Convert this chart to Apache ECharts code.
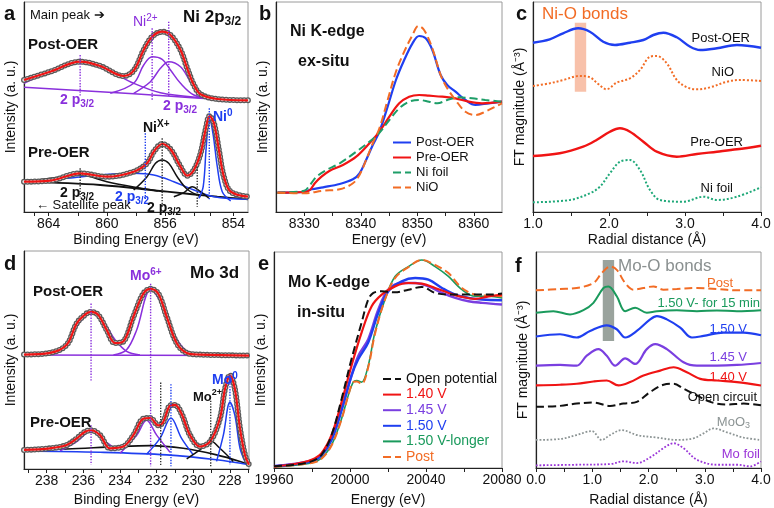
<!DOCTYPE html>
<html><head><meta charset="utf-8">
<script src="https://cdn.jsdelivr.net/npm/echarts@6/dist/echarts.min.js"></script>
<style>html,body{margin:0;padding:0;background:#fff}#c{width:774px;height:508px}</style>
</head><body><div id="c"></div>
<script>
// ---------- Panel a: Ni 2p3/2 XPS ----------
const aTickLabels = ['864','860','856','854'];
const aTickLabelPos = [864, 860, 856, 851.3];
const aTickPos = [865, 864, 862, 860, 858, 856, 854, 852.9, 851.3];
const aPostFit = [[865.7,132],[863.91,140.3],[861.84,150.3],[860.46,146],[858.85,136],[858.16,141.3],[857.47,162],[856.89,175.3],[856.2,180.3],[855.63,177],[854.94,162],[854.48,143.7],[854.02,127],[853.56,117.7],[852.41,113],[850.3,111.7]];
const aPostBg = [[865.7,124.7],[860.46,120.3],[855.86,116],[852.41,112.7],[850.3,111]];
const aPostSat = [[865.7,128.7],[863.91,140.3],[861.84,148.7],[860.0,142],[858.16,128.7],[856.32,119.3],[853.56,114.3],[850.3,111]];
const aPostNi2a = [[859.77,118.7],[858.16,128.7],[857.47,147],[856.89,155.3],[856.2,152.7],[855.63,142],[854.94,128.7],[854.02,117],[852.64,112.7]];
const aPostNi2b = [[858.16,118.7],[857.01,130.3],[856.32,143.7],[855.75,150.3],[854.94,145.3],[854.25,130.3],[853.56,117],[852.64,112]];
const aPreFit = [[865.7,30.3],[863.91,31.3],[861.84,38.7],[860.0,35.3],[858.16,40.3],[857.24,48.7],[856.78,60.3],[856.2,68],[855.63,62.7],[854.94,45.3],[854.48,36.3],[854.02,42],[853.56,58.7],[853.22,82],[852.94,96],[852.64,88.7],[852.3,62],[851.96,35.3],[851.49,20.3],[850.3,15.3]];
const aPreBg = [[865.7,30.3],[860.46,27],[855.86,20.3],[852.41,15.3],[850.3,12.7]];
const aPreSat = [[865.7,29.7],[863.91,33.7],[861.84,37],[860.0,30.3],[858.16,25],[856.5,21]];
const aPreBroad = [[865.7,29.3],[862.76,33.7],[860.46,37],[858.16,38.7],[856.78,37],[855.4,30.3],[854.02,22],[852.64,15.3],[850.3,12.7]];
const aPreNix = [[858.16,22],[857.24,35.3],[856.66,48.7],[856.2,52],[855.75,48.7],[855.17,35.3],[854.48,22.7],[853.56,15.3]];
const aPreSmall = [[855.4,15.3],[854.71,19.3],[854.14,25.3],[853.56,20.3],[852.99,13.7]];
const aPreNi0 = [[853.68,13.7],[853.38,25.3],[853.17,65.3],[852.96,93.7],[852.71,78.7],[852.41,45.3],[852.07,20.3],[851.49,11]];
const aGuidePurple = [[861.84,157,115.3],[856.89,183.7,112],[855.75,190.3,115.3]];
const aGuideBlue = [[852.96,103.7,12],[857.36,78.7,12]];
const aGuideBlack = [[861.84,43.7,15.3],[856.2,73.7,5.3],[853.79,45.3,5.3]];

// ---------- Panel b: Ni K-edge ----------
const bTickLabels = [8330, 8340, 8350, 8360];
const bTicks = [8330, 8335, 8340, 8345, 8350, 8355, 8360];
const bPost = [[8325.25,19.3],[8330,20],[8331.29,22.7],[8333.34,24.7],[8336.27,28],[8338.61,32.7],[8339.78,38.7],[8340.95,52],[8342.13,67],[8343.3,80.3],[8344.76,105.3],[8346.23,132],[8347.69,152],[8349.16,168.7],[8350.33,176],[8351.5,173.7],[8352.67,162],[8354.14,137],[8355.31,127],[8356.77,120.3],[8358.53,112],[8360.29,107],[8362.63,108.7],[8365,110.3]];
const bPre = [[8325.25,19.3],[8330,20],[8331,22],[8331.87,28.7],[8333.05,35.3],[8334.51,41.3],[8336.85,47],[8339.2,55.3],[8341.54,68.7],[8343.3,80.3],[8345.06,95.3],[8346.81,108.7],[8348.57,115.3],[8350.33,117],[8352.09,116.3],[8354.43,115.3],[8356.77,113.7],[8359.12,110.3],[8361.46,108.7],[8365,110.3]];
const bFoil = [[8325.25,19.3],[8330,21.3],[8331,27],[8332.17,35.3],[8333.93,42],[8336.27,48.7],[8339.2,60.3],[8341.54,70.3],[8343.3,79.3],[8345.06,92],[8346.81,103.7],[8348.57,110.3],[8350.33,112],[8352.09,110.3],[8353.55,108.7],[8355.31,112],[8357.36,114.7],[8359.7,113.7],[8362.04,112],[8365,110.3]];
const bNiO = [[8325.25,19.3],[8330,18.7],[8333.34,21.3],[8336.27,22.7],[8338.61,28.7],[8339.78,37],[8340.95,52],[8342.13,68.7],[8343.3,83.7],[8344.76,112],[8346.23,140.3],[8347.69,160.3],[8349.16,177],[8350.21,186],[8351.21,182],[8352.67,163.7],[8354.14,137],[8355.31,123.7],[8356.77,112],[8358.53,100.3],[8360.29,97],[8362.04,100.3],[8363.8,105.3],[8365,108.7]];

// ---------- Panel c: Ni FT-EXAFS ----------
const cTickLabels = [1, 2, 3, 4];
const cTicks = [1, 1.5, 2, 2.5, 3, 3.5, 4];
const cPost = [[1.0,169.3],[1.22,172.7],[1.396,178.7],[1.594,183.7],[1.748,180.3],[1.924,170.3],[2.078,167],[2.276,169.3],[2.452,172],[2.584,177],[2.716,179.3],[2.892,174.7],[3.068,165.3],[3.2,162],[3.42,163.7],[3.684,167],[4.0,164.3]];
const cNiO = [[1.0,126],[1.22,128.7],[1.396,132],[1.616,136],[1.748,134.7],[1.858,128],[1.968,122.7],[2.1,129.3],[2.276,133.7],[2.408,142],[2.54,155.3],[2.628,156],[2.76,148.7],[2.892,132],[3.024,124.7],[3.156,122.7],[3.332,124.7],[3.552,130.3],[3.728,132],[4.0,131]];
const cPre = [[1.0,56],[1.352,58.7],[1.66,65.3],[1.836,72],[2.012,80.3],[2.144,83.7],[2.276,80.3],[2.452,70.3],[2.628,60.3],[2.892,55.3],[3.156,58],[3.42,60.3],[3.684,62.7],[4.0,66.3]];
const cFoil = [[1.0,9.7],[1.484,12],[1.748,18.7],[1.88,25.3],[2.012,38.7],[2.144,50.3],[2.276,52],[2.408,42],[2.54,22],[2.672,12],[2.98,10.3],[3.244,15.3],[3.42,12],[3.684,15.3],[4.0,24.7]];
const cBondBand = [[1.55,120.3],[1.70,189.3]];

// ---------- Panel d: Mo 3d XPS ----------
const dTickLabels = [238, 236, 234, 232, 230, 228];
const dTicks = [239, 238, 237, 236, 235, 234, 233, 232, 231, 230, 229, 228, 227];
const dPostFit = [[239.24,116],[237.82,117.7],[236.91,126],[236.36,147.7],[235.82,157.7],[235.55,159.3],[235.18,156],[234.73,141],[234.27,127.7],[233.82,129.3],[233.27,154.3],[232.73,177.7],[232.33,182.7],[231.91,177.7],[231.45,154.3],[230.91,127.7],[230.36,117.7],[229.64,116],[226.96,115]];
const dPostBg = [[239.24,115.5],[226.96,115]];
const dPostP1 = [[237.82,116.3],[236.91,126],[236.18,149.3],[235.55,157.7],[234.91,149.3],[234.27,131],[233.64,119.3],[232.91,115.7]];
const dPostP2 = [[234.36,115.7],[233.64,121],[233.09,141],[232.33,181.7],[231.64,164.3],[231.09,137.7],[230.36,119.3],[229.64,115.7]];
const dPreFit = [[239.24,19.3],[237.82,21],[236.91,24.3],[236.36,31],[235.91,37.7],[235.58,39.3],[235.09,34.3],[234.55,21],[233.82,22.7],[233.27,34.3],[232.73,51],[232.36,51.7],[231.91,44.3],[231.64,47.7],[231.27,64.3],[231.0,65],[230.64,56],[230.18,34.3],[229.64,22.7],[229.09,27.7],[228.55,51],[228.27,81],[228.0,95],[227.73,81],[227.45,41],[227.18,14.3],[226.96,4.3]];
const dPreBg = [[239.24,19.3],[236.91,20.3],[234.18,22.7],[232.36,23.7],[230.55,21],[228.73,14.3],[227.45,7.7],[226.96,4.3]];
const dPreBase = [[239.24,18.3],[235.09,17],[231.45,14.3],[228.73,9.3],[226.96,4.3]];
const dPreP1 = [[237.27,18.3],[236.36,27.7],[235.58,38.3],[234.91,29.3],[234.18,19.3]];
const dPreP2 = [[234.0,16],[233.09,34.3],[232.55,49.3],[232.0,34.3],[231.27,17]];
const dPreB1 = [[232.55,15],[231.82,31],[231.22,51.7],[230.64,31],[230.0,14.3]];
const dPreMo2 = [[230.36,10.3],[229.64,19.3],[229.05,28.3],[228.55,21],[227.82,7.7]];
const dPreMo0 = [[228.73,7.7],[228.36,34.3],[228.0,67.7],[227.73,54.3],[227.45,21],[227.18,7.7]];
const dGuidePurple = [[235.58,167.7,89.3],[232.33,187.7,2.7],[235.58,44.3,4.3]];
const dGuideBlack = [[231.78,87.7,2.7],[229.05,69.3,2.7]];
const dGuideBlue = [[231.22,86,2.7],[228.0,95.3,4.3]];

// ---------- Panel e: Mo K-edge ----------
const eTickLabels = [19960, 20000, 20040, 20080];
const eTicks = [19960, 19980, 20000, 20020, 20040, 20060, 20080];
const eOpen = [[19960,1.7],[19970.9,3.3],[19979.7,6.7],[19985,13.3],[19990.3,33.3],[19995.6,70],[20000.8,110],[20006.1,146.7],[20009.6,170],[20012.3,176.7],[20016.7,178.3],[20023.7,177.3],[20030.8,180],[20037.8,182.7],[20044.8,176.7],[20051.9,175],[20058.9,175],[20066,175],[20073,175],[20080,176]];
const e140 = [[19960,1.7],[19970.9,4],[19979.7,8.3],[19985,15],[19990.3,33.3],[19995.6,66.7],[20000.8,103.3],[20006.1,136.7],[20011.4,163.3],[20016.7,175],[20023.7,183.3],[20030.8,186.7],[20037.8,186],[20044.8,181.7],[20051.9,176.7],[20058.9,172.7],[20066,170.7],[20073,173.3],[20080,175]];
const e145 = [[19960,1.7],[19979.7,7.3],[19985,13.3],[19990.3,30],[19995.6,60],[20000.8,93.3],[20004.4,113.3],[20009.6,130],[20014.9,160],[20020.2,180],[20027.2,186.7],[20034.3,186.7],[20041.3,183.3],[20048.4,176.7],[20055.4,171.7],[20062.4,168.3],[20069.5,166.7],[20080,165]];
const e150 = [[19960,1.7],[19979.7,6.7],[19985,12.7],[19990.3,28.3],[19995.6,58.3],[20000.8,93.3],[20004.4,110],[20009.6,126.7],[20014.9,156.7],[20020.2,178.3],[20027.2,188.3],[20034.3,191.7],[20041.3,190],[20048.4,181.7],[20055.4,175],[20062.4,171.7],[20069.5,170],[20080,169.3]];
const e150L = [[19960,0.7],[19979.7,5],[19985,10],[19990.3,23.3],[19995.6,50],[19999.1,73.3],[20001.7,86.7],[20003.5,88.3],[20006.1,86.7],[20009.6,103.3],[20013.1,136.7],[20018.4,170],[20023.7,193.3],[20030.7,203.3],[20037.8,210],[20044.8,203.3],[20051.8,193.3],[20058.9,180],[20065.9,173.3],[20073,173.3],[20080,171.7]];
const ePost = [[19960,1.3],[19979.7,5],[19985,9.3],[19990.3,22.7],[19995.6,49.3],[19999.1,73.3],[20001.7,86.7],[20003.5,87.3],[20006.1,85],[20009.6,101.7],[20013.1,135],[20018.4,170],[20023.7,191.7],[20030.7,202.7],[20037.8,210],[20044.8,205],[20051.8,196.7],[20058.9,181.7],[20065.9,175],[20073,174],[20080,173.3]];

// ---------- Panel f: Mo FT-EXAFS ----------
const fTickLabels = [0, 1, 2, 3, 4];
const fTicks = [0, 0.5, 1, 1.5, 2, 2.5, 3, 3.5, 4];
const fPost = [[0,179.3],[0.427,180.7],[0.724,181.7],[1.021,186.7],[1.169,196.7],[1.318,203.3],[1.436,200],[1.585,186.7],[1.733,180],[1.911,181.7],[2.089,183.3],[2.267,180],[2.504,180.7],[2.861,181.7],[3.217,180.7],[3.573,179.3],[4,179.3]];
const f150L = [[0,156.7],[0.309,158.3],[0.605,155],[0.843,159.3],[1.021,166.7],[1.199,181.7],[1.288,183.3],[1.436,173.3],[1.585,158.3],[1.763,161.7],[1.97,156.7],[2.148,158.3],[2.504,159.3],[2.861,158.3],[3.217,159],[3.573,158.3],[4,159.3]];
const f150 = [[0,132.7],[0.427,135],[0.724,131.7],[0.961,138.3],[1.258,144],[1.436,140],[1.585,131.7],[1.792,138.3],[2.03,150],[2.148,153.3],[2.326,150],[2.564,141.7],[2.772,131.7],[2.979,133.3],[3.335,136.7],[3.691,136.7],[4,134]];
const f145 = [[0,103.3],[0.427,104],[0.724,103.3],[0.902,113.3],[1.11,120],[1.258,113.3],[1.407,103.3],[1.585,110.7],[1.763,105],[1.97,120],[2.119,125],[2.326,120],[2.623,106.7],[2.861,103.3],[3.217,103.3],[3.573,104],[4,106]];
const f140 = [[0,83.3],[0.427,84],[0.724,85],[1.021,87.3],[1.258,88.3],[1.466,83.3],[1.674,86.7],[1.911,93.3],[2.208,98.3],[2.445,101.7],[2.682,96.7],[2.92,90],[3.217,88.3],[3.573,86.7],[4,83.3]];
const fOpen = [[0,61.7],[0.427,62.7],[0.724,65],[1.021,66],[1.318,62.7],[1.555,65],[1.792,66.7],[2.03,76.7],[2.267,84],[2.445,85],[2.623,80],[2.861,73.3],[3.098,66.7],[3.395,64],[3.691,65],[4,63.3]];
const fMoO3 = [[0,28.3],[0.427,29.3],[0.724,33.3],[0.991,37.3],[1.169,28.3],[1.318,33.3],[1.525,38.3],[1.792,33.3],[2.148,30.7],[2.504,28.3],[2.801,30],[2.979,35],[3.157,40],[3.395,36],[3.691,30.7],[4,28.3]];
const fFoil = [[0,2.7],[0.724,3.3],[1.318,4],[1.555,6.7],[1.792,5],[2.03,10.7],[2.267,20],[2.445,25],[2.623,20],[2.861,8.3],[3.217,3.3],[3.573,3.3],[3.81,1.7],[4,6.7]];
const fBondBand = [[1.187,128.3],[1.389,210]];

// ---------- styling ----------
const FONT = 'Liberation Sans, Arial, sans-serif';
const RED = '#f01414', BLUE = '#1f3ff0', PURPLE = '#8a30dc', GREEN = '#17a062', ORANGE = '#f26c25', BLACK = '#111111', GRAY = '#8c9494';

const chart = echarts.init(document.getElementById('c'), null, {renderer: 'canvas'});

const grids = [
  {left: 24, top: 2, width: 224, height: 210},
  {left: 276, top: 2, width: 226, height: 210},
  {left: 533, top: 2, width: 228, height: 210},
  {left: 24, top: 251, width: 225, height: 221},
  {left: 274, top: 252, width: 228, height: 218},
  {left: 536, top: 252, width: 225, height: 218}
].map(g => Object.assign({show: true, borderColor: '#9a9a9a', borderWidth: 1, backgroundColor: 'transparent'}, g));

function xAx(gi, min, max, inverse, labels, ticks, fmt, name, gap) {
  return {type: 'value', gridIndex: gi, min, max, inverse, name, nameLocation: 'middle', nameGap: gap,
    nameTextStyle: {fontSize: 14, color: BLACK, fontFamily: FONT},
    axisLine: {show: true, onZero: false, lineStyle: {color: '#222', width: 1.2}},
    axisTick: {show: true, customValues: ticks, length: 4, lineStyle: {color: '#222'}},
    axisLabel: {customValues: labels, formatter: fmt, fontSize: 14, color: BLACK, fontFamily: FONT, margin: 5},
    splitLine: {show: false}};
}
function yAx(gi, max, name) {
  return {type: 'value', gridIndex: gi, min: 0, max, name, nameLocation: 'middle', nameGap: 6,
    nameTextStyle: {fontSize: 14, color: BLACK, fontFamily: FONT},
    axisLine: {show: true, lineStyle: {color: '#222', width: 1.2}},
    axisTick: {show: false}, axisLabel: {show: false}, splitLine: {show: false}};
}
const xAxis = [
  xAx(0, 850.3, 865.7, true, aTickLabelPos, aTickPos, v => aTickLabels[aTickLabelPos.indexOf(v)] || '', 'Binding Energy (eV)', 21),
  xAx(1, 8325, 8365, false, bTickLabels, bTicks, v => String(v), 'Energy (eV)', 21),
  xAx(2, 1, 4, false, cTickLabels, cTicks, v => v.toFixed(1), 'Radial distance (Å)', 21),
  xAx(3, 226.96, 239.24, true, dTickLabels, dTicks, v => String(v), 'Binding Energy (eV)', 24),
  xAx(4, 19960, 20080, false, eTickLabels, eTicks, v => String(v), 'Energy (eV)', 25),
  xAx(5, 0, 4, false, fTickLabels, fTicks, v => v.toFixed(1), 'Radial distance (Å)', 25)
];
const yAxis = [
  yAx(0, 210, 'Intensity (a. u.)'), yAx(1, 210, 'Intensity (a. u.)'), yAx(2, 210, 'FT magnitude (Å⁻³)'),
  yAx(3, 221, 'Intensity (a. u.)'), yAx(4, 218, 'Intensity (a. u.)'), yAx(5, 218, 'FT magnitude (Å⁻³)')
];

const series = [];
function ln(gi, name, data, color, width, type, z, extra) {
  const s = {type: 'line', name, xAxisIndex: gi, yAxisIndex: gi, data, smooth: 0.35, symbol: 'none', showSymbol: false,
    lineStyle: {color, width, type: type || 'solid'}, itemStyle: {color}, z: z || 2, silent: true, animation: false};
  if (extra) Object.assign(s, extra);
  series.push(s);
  return s;
}
function fitEnvelope(gi, key, data) {
  ln(gi, key + '-o', data, '#5a5a5a', 6, [0, 3.6], 3, {lineStyle: {color: '#5a5a5a', width: 6, type: [0, 3.6], cap: 'round'}});
  ln(gi, key + '-i', data, '#e2e2e2', 3.4, [0, 3.6], 4, {lineStyle: {color: '#e2e2e2', width: 3.4, type: [0, 3.6], cap: 'round'}});
  ln(gi, key + '-r', data, RED, 2.2, 'solid', 5);
}
function guides(gi, key, list, color) {
  list.forEach((g, i) => ln(gi, key + i, [[g[0], g[1]], [g[0], g[2]]], color, 1.4, 'dotted', 6, {smooth: false}));
}

// Panel a
ln(0, 'a-post-bg', aPostBg, PURPLE, 1.5);
ln(0, 'a-post-sat', aPostSat, PURPLE, 1.5);
ln(0, 'a-post-n1', aPostNi2a, PURPLE, 1.5);
ln(0, 'a-post-n2', aPostNi2b, PURPLE, 1.5);
fitEnvelope(0, 'a-post', aPostFit);
ln(0, 'a-pre-bg', aPreBg, BLACK, 1.8);
ln(0, 'a-pre-sat', aPreSat, BLACK, 1.5);
ln(0, 'a-pre-broad', aPreBroad, BLUE, 1.5);
ln(0, 'a-pre-nix', aPreNix, BLACK, 1.5);
ln(0, 'a-pre-small', aPreSmall, BLACK, 1.5);
ln(0, 'a-pre-ni0', aPreNi0, BLUE, 1.5);
fitEnvelope(0, 'a-pre', aPreFit);
guides(0, 'a-gp', aGuidePurple, PURPLE);
guides(0, 'a-gb', aGuideBlue, BLUE);
guides(0, 'a-gk', aGuideBlack, '#333');

// Panel b
ln(1, 'Post-OER', bPost, BLUE, 2.2, 'solid', 3);
ln(1, 'Pre-OER', bPre, RED, 2.2, 'solid', 3);
ln(1, 'Ni foil', bFoil, '#1e9e68', 2, 'dashed', 3);
ln(1, 'NiO', bNiO, ORANGE, 2, 'dashed', 4);

// Panel c
ln(2, 'c-post', cPost, BLUE, 2.4, 'solid', 3, {markArea: {silent: true, itemStyle: {color: 'rgba(244,160,125,0.65)'}, data: [[{coord: cBondBand[0]}, {coord: cBondBand[1]}]]}});
ln(2, 'c-nio', cNiO, ORANGE, 2, 'dotted', 3);
ln(2, 'c-pre', cPre, RED, 2.4, 'solid', 3);
ln(2, 'c-foil', cFoil, '#1ea878', 2, 'dotted', 3);

// Panel d
ln(3, 'd-post-bg', dPostBg, PURPLE, 1.5, 'solid', 2, {smooth: false});
ln(3, 'd-post-p1', dPostP1, PURPLE, 1.5);
ln(3, 'd-post-p2', dPostP2, PURPLE, 1.5);
fitEnvelope(3, 'd-post', dPostFit);
ln(3, 'd-pre-bg', dPreBg, BLACK, 1.6);
ln(3, 'd-pre-base', dPreBase, BLUE, 1.6);
ln(3, 'd-pre-p1', dPreP1, PURPLE, 1.5);
ln(3, 'd-pre-p2', dPreP2, PURPLE, 1.5);
ln(3, 'd-pre-b1', dPreB1, BLUE, 1.5);
ln(3, 'd-pre-mo2', dPreMo2, BLACK, 1.5);
ln(3, 'd-pre-mo0', dPreMo0, BLUE, 1.5);
fitEnvelope(3, 'd-pre', dPreFit);
guides(3, 'd-gp', dGuidePurple, PURPLE);
guides(3, 'd-gk', dGuideBlack, '#333');
guides(3, 'd-gb', dGuideBlue, BLUE);

// Panel e
ln(4, '1.50 V-longer', e150L, '#1a9a5c', 1.6, 'solid', 3);
ln(4, 'Post', ePost, ORANGE, 2, 'dashed', 4);
ln(4, '1.45 V', e145, '#7a3fe0', 2.4, 'solid', 3);
ln(4, '1.50 V', e150, BLUE, 2.4, 'solid', 3);
ln(4, '1.40 V', e140, RED, 2.2, 'solid', 4);
ln(4, 'Open potential', eOpen, BLACK, 2, 'dashed', 5);

// Panel f
ln(5, 'f-post', fPost, ORANGE, 2, 'dashed', 4, {markArea: {silent: true, itemStyle: {color: 'rgba(120,132,124,0.75)'}, data: [[{coord: fBondBand[0]}, {coord: fBondBand[1]}]]}});
ln(5, 'f-150l', f150L, '#1a9a5c', 2, 'solid', 3);
ln(5, 'f-150', f150, BLUE, 2.2, 'solid', 3);
ln(5, 'f-145', f145, '#7a3fe0', 2.2, 'solid', 3);
ln(5, 'f-140', f140, RED, 2.2, 'solid', 3);
ln(5, 'f-open', fOpen, BLACK, 2, 'dashed', 3);
ln(5, 'f-moo3', fMoO3, GRAY, 1.8, 'dotted', 3);
ln(5, 'f-foil', fFoil, '#9a35d8', 1.8, 'dotted', 3);

// ---------- annotations ----------
const richBase = (size, color, weight) => ({
  n: {fontSize: size, color, fontWeight: weight, fontFamily: FONT, lineHeight: size + 4, verticalAlign: 'middle'},
  s: {fontSize: Math.round(size * 0.68), color, fontWeight: weight, fontFamily: FONT, lineHeight: Math.round(size * 0.68), verticalAlign: 'bottom'},
  u: {fontSize: Math.round(size * 0.68), color, fontWeight: weight, fontFamily: FONT, lineHeight: Math.round(size * 0.68), verticalAlign: 'top'}
});
const graphic = [];
function T(x, y, text, size, color, weight, align) {
  graphic.push({type: 'text', x, y, z: 100, silent: true,
    style: {text, x: 0, y: 0, align: align || 'left', verticalAlign: 'middle', rich: richBase(size, color, weight || 'normal'),
      fontSize: size, fill: color, fontWeight: weight || 'normal', fontFamily: FONT}});
}
// panel letters
T(4, 14, '{n|a}', 20, BLACK, 'bold'); T(259, 14, '{n|b}', 20, BLACK, 'bold'); T(516, 14, '{n|c}', 20, BLACK, 'bold');
T(4, 264, '{n|d}', 20, BLACK, 'bold'); T(258, 264, '{n|e}', 20, BLACK, 'bold'); T(515, 266, '{n|f}', 20, BLACK, 'bold');
// a
T(30, 15, '{n|Main peak ➔}', 13, BLACK);
T(183, 17, '{n|Ni 2p}{s|3/2}', 17, BLACK, 'bold');
T(133, 22, '{n|Ni}{u|2+}', 14, PURPLE);
T(28, 45, '{n|Post-OER}', 15, BLACK, 'bold');
T(60, 100, '{n|2 p}{s|3/2}', 14, PURPLE, 'bold');
T(163, 106, '{n|2 p}{s|3/2}', 14, PURPLE, 'bold');
T(143, 128, '{n|Ni}{u|X+}', 14, BLACK, 'bold');
T(213, 117, '{n|Ni}{u|0}', 14, BLUE, 'bold');
T(28, 153, '{n|Pre-OER}', 15, BLACK, 'bold');
T(60, 193, '{n|2 p}{s|3/2}', 14, BLACK, 'bold');
T(115, 197, '{n|2 p}{s|3/2}', 14, BLUE, 'bold');
T(147, 208, '{n|2 p}{s|3/2}', 14, BLACK, 'bold');
T(36, 205, '{n|← Satellite peak}', 13, BLACK);
// b
T(290, 32, '{n|Ni K-edge}', 16, BLACK, 'bold');
T(298, 62, '{n|ex-situ}', 16, BLACK, 'bold');
// c
T(542, 14, '{n|Ni-O bonds}', 17, ORANGE);
T(750, 38, '{n|Post-OER}', 13, BLACK, 'normal', 'right');
T(734, 72, '{n|NiO}', 13, BLACK, 'normal', 'right');
T(743, 142, '{n|Pre-OER}', 13, BLACK, 'normal', 'right');
T(733, 188, '{n|Ni foil}', 13, BLACK, 'normal', 'right');
// d
T(33, 292, '{n|Post-OER}', 15, BLACK, 'bold');
T(130, 276, '{n|Mo}{u|6+}', 14, PURPLE, 'bold');
T(190, 273, '{n|Mo 3d}', 17, BLACK, 'bold');
T(30, 423, '{n|Pre-OER}', 15, BLACK, 'bold');
T(212, 380, '{n|Mo}{u|0}', 14, BLUE, 'bold');
T(193, 397, '{n|Mo}{u|2+}', 13, BLACK, 'bold');
// e
T(288, 283, '{n|Mo K-edge}', 16, BLACK, 'bold');
T(297, 313, '{n|in-situ}', 16, BLACK, 'bold');
// f
T(618, 266, '{n|Mo-O bonds}', 17, '#8a9090');
T(733, 283, '{n|Post}', 13, ORANGE, 'normal', 'right');
T(760, 303, '{n|1.50 V- for 15 min}', 13, '#1a9a5c', 'normal', 'right');
T(747, 329, '{n|1.50 V}', 13, BLUE, 'normal', 'right');
T(747, 357, '{n|1.45 V}', 13, '#7a3fe0', 'normal', 'right');
T(747, 377, '{n|1.40 V}', 13, RED, 'normal', 'right');
T(757, 397, '{n|Open circuit}', 13, BLACK, 'normal', 'right');
T(750, 422, '{n|MoO}{s|3}', 13, GRAY, 'normal', 'right');
T(760, 454, '{n|Mo foil}', 13, '#9a35d8', 'normal', 'right');

const legend = [
  {show: true, orient: 'vertical', left: 392, top: 136, itemWidth: 18, itemHeight: 10, itemGap: 2, padding: 0,
   itemStyle: {opacity: 0}, data: ['Post-OER', 'Pre-OER', 'Ni foil', 'NiO'],
   textStyle: {fontSize: 13, color: BLACK, fontFamily: FONT}, selectedMode: false},
  {show: true, orient: 'vertical', left: 382, top: 372, itemWidth: 18, itemHeight: 10, itemGap: 1.6, padding: 0, selectedMode: false,
   itemStyle: {opacity: 0}, textStyle: {fontSize: 14, fontFamily: FONT},
   data: [{name: 'Open potential', textStyle: {color: BLACK}}, {name: '1.40 V', textStyle: {color: RED}}, {name: '1.45 V', textStyle: {color: '#7a3fe0'}},
          {name: '1.50 V', textStyle: {color: BLUE}}, {name: '1.50 V-longer', textStyle: {color: '#1a9a5c'}}, {name: 'Post', textStyle: {color: ORANGE}}]}
];

chart.setOption({animation: false, backgroundColor: '#fff', grid: grids, xAxis, yAxis, series, legend, graphic});
</script></body></html>
